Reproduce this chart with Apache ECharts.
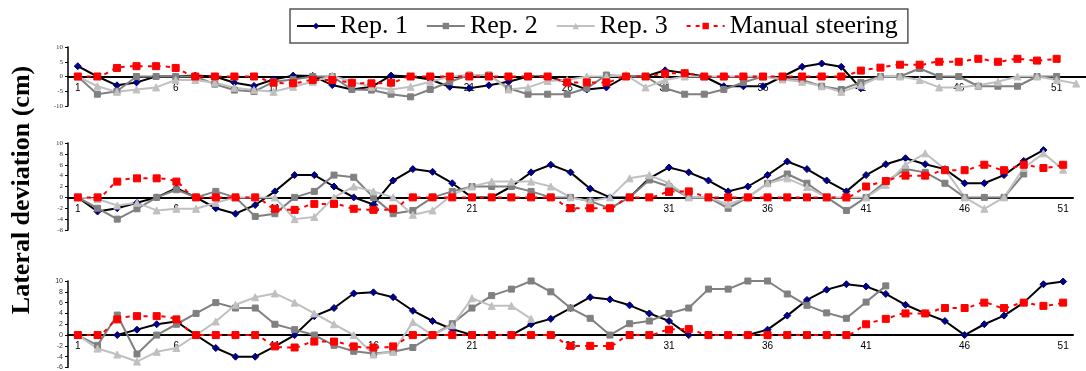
<!DOCTYPE html>
<html>
<head>
<meta charset="utf-8">
<script src="https://cdn.jsdelivr.net/npm/echarts@6/dist/echarts.min.js"></script>
<style>
  html, body { margin: 0; padding: 0; background: #fff; }
  #chart { width: 1086px; height: 371px; }
</style>
</head>
<body>
<div id="chart"></div>
<script>
// categories (top panel runs one step longer)
const catsTop = Array.from({ length: 52 }, (_, i) => String(i + 1));
const cats = Array.from({ length: 51 }, (_, i) => String(i + 1));

// manual steering reference, same in all three panels
const manual = [0, 0, 2.9, 3.5, 3.5, 2.9, 0, 0, 0, 0, -2.1, -2.3, -1.2, -1.2, -2.1, -2.3, -2.1, 0, 0, 0,
  0, 0, 0, 0, 0, -2, -2, -2, 0, 0, 1, 1.1, 0, 0, 0, 0, 0, 0, 0, 0,
  2, 3, 4, 4, 5, 5, 6, 5, 6, 5.4, 6];

// top panel
const rep1Top = [3.5, 0, -3, -2, 0, 0, 0.3, 0, -2.1, -3.2, -1, 0.3, 0.2, -2.9, -4.4, -3.5, 0.3, 0, -1, -3.5,
  -4, -3, -1.8, 0, 0, -2, -4.4, -3.7, 0, 0, 2.1, 1.2, 0, -3.3, -3.3, -3.3, 0, 3.3, 4.4, 3.3, -4];
const rep2Top = [0, -6, -5, 0, 0, 0, 0, -2.6, -4.6, -5.1, -1.8, -1, 0, 0, -4.4, -4.6, -6, -6.9, -4.4, -1.8,
  0.5, 0.5, -4, -6, -6, -6, -4, 0.5, 0, 0, -4, -6, -6, -4.4, -2, 0, -0.7, -1.2, -3.3, -4.4,
  -2, 0, 0, 2.7, 0, 0, -3.3, -3.3, -3.3, 0, 0];
const rep3Top = [0, -3.3, -5.2, -4.4, -3.7, -1.2, -1.2, -2.1, -3.8, -4.6, -5.2, -3.5, -1.8, 0.3, -1.8, -3.5, -4.4, -3.5, -1.8, 0,
  0.5, 0.5, -4.4, -3.7, -1.5, -1.2, 0, 0, 0.5, -3.7, -1.2, 0, 0, 0, 0, 0, -1, -1.8, -3.3, -5.2,
  -3, 0, 0, -1.2, -3.7, -3.7, -3, -1.8, 0, 0, -1.2, -2.4];

// middle panel
const rep1Mid = [0, -2.6, -2, -1, 0, 1.7, 0, -2, -3, -1.4, 1.1, 4.1, 4.1, 2, 0, -1.3, 3.1, 5.2, 4.7, 2.6,
  0, 0, 2, 4.6, 6, 4.6, 1.6, 0, 0, 3.5, 5.5, 4.6, 3.1, 1.1, 2, 4.1, 6.6, 5.2, 3.1, 1.1,
  4.1, 6.1, 7.2, 6.1, 5.2, 2.6, 2.6, 4.1, 6.7, 8.7];
const rep2Mid = [0, -2, -4, -2.1, 0, 1.4, 0, 1.1, 0, -3.5, -3, 0, 1.1, 4.1, 3.7, 0, -3, -2.4, 0, 1.1,
  2, 2, 2, 1.1, 0, 0, -0.7, -2, 0, 3.2, 2, 0, 0, -2, 0, 2.6, 4.3, 2.6, 0, -2.4,
  0, 2.9, 5.2, 4.6, 2.6, 0, 0, 0, 4.3];
const rep3Mid = [0, -0.3, -1.5, -1, -2.4, -2.1, -2.1, -1, 0, 0, 0, -4, -3.6, 0, 2, 1.1, 0, -3.2, -2.4, 0.5,
  2, 2.9, 2.9, 2.9, 2, 0, -0.7, 0, 3.5, 4.1, 2.6, 0, 0, -1.3, 0, 2.6, 3.5, 1.9, 0, 0,
  0, 2.3, 6, 8.1, 5.2, 0, -2.1, 0, 5.4, 8.1, 5.1];

// bottom panel
const rep1Bot = [0, 0, 0, 1, 2, 2.5, 0, -2.4, -4, -4, -2.1, 0, 3.5, 5, 7.7, 7.9, 7, 4.5, 2.6, 1.1,
  0, 0, 0, 2, 3, 5, 7, 6.6, 5.5, 4, 2.6, 0, 0, 0, 0, 1, 3.6, 6.5, 8.4, 9.4,
  9, 7.6, 5.6, 4, 2.6, 0, 2, 3.6, 6, 9.4, 9.9];
const rep2Bot = [0, -1.9, 3.7, -3.5, 0, 2, 4, 6, 5, 5, 2, 1, 0, -1.9, -3, -3.4, -3.1, -2.3, 0, 2.1,
  5, 7.3, 8.5, 10, 8, 5, 3.1, 0, 2.1, 2.6, 4, 5, 8.5, 8.5, 10, 10, 7.6, 5.5, 4.1, 3.1,
  6.1, 9.1];
const rep3Bot = [0, -2.5, -3.6, -4.9, -3.1, -2.4, 0, 2.5, 5.6, 7, 7.7, 6, 4, 2, 0, -3.6, -3.1, 2.4, 0, 1.8,
  6.8, 5.4, 5.4, 3];

const names = ['Rep. 1', 'Rep. 2', 'Rep. 3', 'Manual steering'];

const chart = echarts.init(document.getElementById('chart'), null, { renderer: 'canvas' });

const panels = [
  { top: 47, height: 59, right: -1, cats: catsTop, min: -10, max: 10, step: 5, serif: true, data: [rep1Top, rep2Top, rep3Top] },
  { top: 143, height: 87, right: 13, cats: cats, min: -6, max: 10, step: 2, serif: true, data: [rep1Mid, rep2Mid, rep3Mid] },
  { top: 281, height: 88, right: 13, cats: cats, min: -6, max: 10, step: 2, serif: false, data: [rep1Bot, rep2Bot, rep3Bot] },
];

const looks = [
  { color: '#000', symbol: 'diamond', size: 7, fill: '#000080', dash: 'solid' },
  { color: '#808080', symbol: 'rect', size: 6, fill: '#808080', dash: 'solid' },
  { color: '#c0c0c0', symbol: 'triangle', size: 7, fill: '#c0c0c0', dash: 'solid' },
  { color: '#ff0000', symbol: 'rect', size: 7, fill: '#ff0000', dash: [4, 5] },
];

const grid = [], xAxis = [], yAxis = [], series = [];

panels.forEach((p, i) => {
  grid.push({ left: 68, right: p.right, top: p.top, height: p.height });
  // x axis sits on the zero line: lift it up from the grid bottom
  const zeroLift = p.height * (0 - p.min) / (p.max - p.min);
  xAxis.push({
    type: 'category',
    gridIndex: i,
    data: p.cats,
    boundaryGap: true,
    position: 'bottom',
    offset: -zeroLift,
    axisLine: { onZero: false, lineStyle: { color: '#000', width: 2 } },
    axisTick: { interval: 0, length: 4, lineStyle: { color: '#000', width: 1 } },
    axisLabel: { interval: 4, margin: 7, color: '#000', fontSize: 10, fontFamily: 'Liberation Sans' },
    splitLine: { show: false },
  });
  yAxis.push({
    type: 'value',
    gridIndex: i,
    min: p.min,
    max: p.max,
    interval: p.step,
    axisLine: { show: true, onZero: false, lineStyle: { color: '#000', width: 1.5 } },
    axisTick: { show: true, length: 3, lineStyle: { color: '#000' } },
    axisLabel: {
      margin: 5,
      color: '#333',
      fontSize: 7,
      fontFamily: p.serif ? 'Liberation Serif' : 'Liberation Sans',
    },
    splitLine: { show: false },
  });
  const lines = [...p.data, manual];
  lines.forEach((vals, k) => {
    const look = looks[k];
    series.push({
      name: names[k],
      type: 'line',
      xAxisIndex: i,
      yAxisIndex: i,
      data: vals,
      symbol: look.symbol,
      symbolSize: look.size,
      smooth: k === 3 ? 0.3 : false,
      itemStyle: { color: look.fill, borderColor: look.fill },
      lineStyle: { color: look.color, width: 2, type: look.dash },
      animation: false,
    });
  });
});

chart.setOption({
  backgroundColor: '#fff',
  animation: false,
  legend: {
    data: names,
    left: 290,
    top: 9,
    padding: [4, 10, 4, 6],
    itemGap: 18,
    itemWidth: 38,
    itemHeight: 8,
    borderColor: '#555',
    borderWidth: 1.5,
    borderRadius: 0,
    textStyle: { fontFamily: 'Liberation Serif', fontSize: 26, color: '#000' },
  },
  graphic: [
    {
      type: 'text',
      x: 22,
      y: 190,
      rotation: Math.PI / 2,
      style: {
        text: 'Lateral deviation (cm)',
        font: 'bold 26px "Liberation Serif"',
        fill: '#000',
        textAlign: 'center',
        textVerticalAlign: 'middle',
      },
    },
  ],
  grid,
  xAxis,
  yAxis,
  series,
});
</script>
</body>
</html>
